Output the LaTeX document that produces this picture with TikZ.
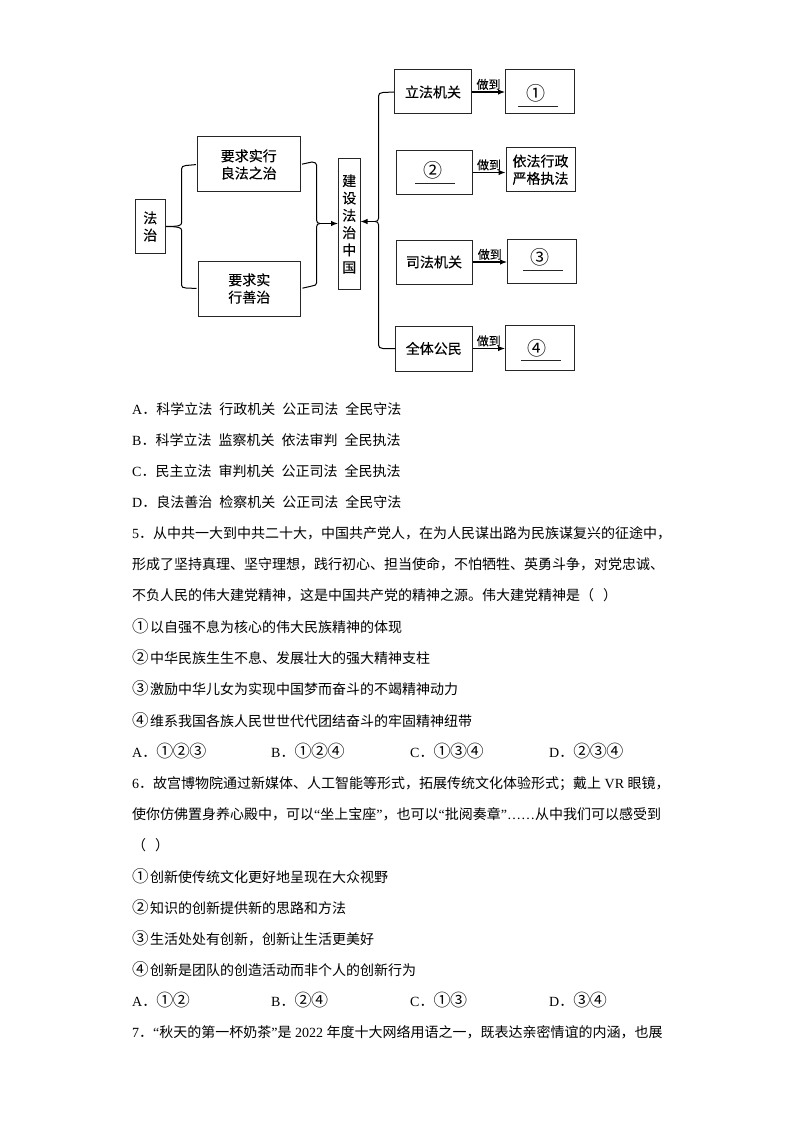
\documentclass[tikz,border=0pt]{standalone}
\usepackage{fontspec}
\setmainfont{Noto Sans CJK SC}
\newfontfamily\latf{Liberation Serif}
\newfontfamily\boxf[FakeBold=0.25]{Noto Sans CJK SC}
\usetikzlibrary{positioning, arrows.meta}
\newcommand{\lat}[1]{{\latf #1}}
\newcommand{\cnum}[1]{\makebox[18pt][l]{\fontsize{16.5}{17}\selectfont #1}}
\newcommand{\onum}[1]{\makebox[16.5pt][l]{\fontsize{17}{17}\selectfont #1}}

\tikzset{
    box/.style={draw=black!85, line width=1pt, inner sep=0pt, align=center, text=black, font=\boxf\fontsize{14}{17.3}\selectfont},
    row/.style={anchor=base west, inner sep=0pt, font=\fontsize{14}{17}\selectfont},
    brace/.style={line width=1pt},
    link/.style={line width=1.1pt, -{Latex[length=7pt,width=5.5pt]}},
    did/.style={above, inner sep=1.5pt, font=\boxf\fontsize{12}{14}\selectfont},
    blanknum/.style={inner sep=0pt, font=\fontsize{19}{19}\selectfont},
    blankline/.style={fill=black!85, inner sep=0pt, minimum width=40pt, minimum height=1pt}
}

\begin{document}
\begin{tikzpicture}[x=1pt, y=-1pt]
    \useasboundingbox (0,0) rectangle (794,1123);

    % Left part
    \node [box, minimum width=30.5pt, minimum height=53pt] (fazhi) at (150.25,226.5) {法\\治};
    \node [box, minimum width=102.5pt, minimum height=55pt] (good) at (248.75,164.5) {要求实行\\良法之治};
    \node [box, minimum width=102.5pt, minimum height=55pt] (gov) at (249.25,288.5) {要求实\\行善治};
    \node [box, minimum width=21.5pt, minimum height=130pt] (china) at (349.25,224) {建\\设\\法\\治\\中\\国};

    % Left row of boxes
    \node [box, minimum width=77pt, minimum height=44pt] (law) at (433,92) {立法机关};
    \node [box, minimum width=76pt, minimum height=44pt] (admin) at (434,172.5) {};
    \node [box, minimum width=76pt, minimum height=44pt] (court) at (434,262) {司法机关};
    \node [box, minimum width=76.5pt, minimum height=45pt] (people) at (433.75,348.5) {全体公民};

    % Right row of boxes
    \node [box, minimum width=69pt, minimum height=44.5pt] (ans1) at (540,91.75) {};
    \node [box, minimum width=69pt, minimum height=44.5pt] (strict) at (540.5,169.75) {依法行政\\严格执法};
    \node [box, minimum width=68.5pt, minimum height=44pt] (ans3) at (541.75,261) {};
    \node [box, minimum width=68.5pt, minimum height=44.5pt] (ans4) at (539.75,347.75) {};

    % Blanks
    \node [blanknum] (num1) at (536,93) {①};
    \node [blanknum] (num2) at (433,170) {②};
    \node [blanknum] (num3) at (540,257) {③};
    \node [blanknum] (num4) at (537,348) {④};
    \node [blankline] (line1) at (538,107) {};
    \node [blankline] (line2) at (434.5,184) {};
    \node [blankline] (line3) at (543,270.5) {};
    \node [blankline] (line4) at (540.5,360.5) {};

    % Braces
    \draw [brace, shorten <=1pt] (good.west) -- (186,165.5) .. controls (183,166) and (181.5,166.5) .. (181.5,169) -- (181.5,223) .. controls (181.5,225.5) and (179,226.5) .. (fazhi.east);
    \draw [brace, shorten <=1pt] (gov.west) -- (186,288) .. controls (183,288) and (181.5,287) .. (181.5,285) -- (181.5,230) .. controls (181.5,228) and (179,226.5) .. (fazhi.east);
    \coordinate (mtip) at (320,223.5);
    \draw [brace, shorten <=1.5pt] (good.east) -- (312,162) .. controls (315,162.5) and (316.5,163) .. (316.5,165) -- (316.5,220) .. controls (316.5,222.5) and (318,223.5) .. (mtip);
    \draw [brace, shorten <=1.5pt] (gov.east) -- (312,286) .. controls (315,285.5) and (316.5,285) .. (316.5,283) -- (316.5,227) .. controls (316.5,224.5) and (318,223.5) .. (mtip);
    \coordinate (rtip) at (375,221.5);
    \draw [brace] (law.west) -- (383,92.5) .. controls (380,93) and (378.5,93.5) .. (378.5,96) -- (378.5,218.5) .. controls (378.5,220.5) and (377,221.5) .. (rtip);
    \draw [brace] (people.west) -- (383,348.5) .. controls (380,348) and (378.5,347.5) .. (378.5,345) -- (378.5,224.5) .. controls (378.5,222.5) and (377,221.5) .. (rtip);

    % Arrows
    \draw [link] (mtip) -- (china.west |- mtip);
    \draw [link] (rtip) -- (china.east |- rtip);
    \draw [link] (law.east) -- node [did] (did1) {做到} (ans1.west |- law.east);
    \draw [link] (admin.east) -- node [did] (did2) {做到} (strict.west |- admin.east);
    \draw [link] (court.east) -- node [did] (did3) {做到} (ans3.west |- court.east);
    \draw [link] (people.east) -- node [did] (did4) {做到} (ans4.west |- people.east);

    % Options of question 4
    \node [row] (q4a) at (132,414.5) {\lat{A}．科学立法\hspace{7pt}行政机关\hspace{7pt}公正司法\hspace{7pt}全民守法};
    \node [row] (q4b) at (132,445.5) {\lat{B}．科学立法\hspace{7pt}监察机关\hspace{7pt}依法审判\hspace{7pt}全民执法};
    \node [row] (q4c) at (132,476.5) {\lat{C}．民主立法\hspace{7pt}审判机关\hspace{7pt}公正司法\hspace{7pt}全民执法};
    \node [row] (q4d) at (132,507.5) {\lat{D}．良法善治\hspace{7pt}检察机关\hspace{7pt}公正司法\hspace{7pt}全民守法};

    % Question 5
    \node [row] (q5l1) at (132,538.5) {\lat{5}．从中共一大到中共二十大，中国共产党人，在为人民谋出路为民族谋复兴的征途中，};
    \node [row] (q5l2) at (132,569.5) {形成了坚持真理、坚守理想，践行初心、担当使命，不怕牺牲、英勇斗争，对党忠诚、};
    \node [row] (q5l3) at (132,600.5) {不负人民的伟大建党精神，这是中国共产党的精神之源。伟大建党精神是（\hspace{9pt}）};
    \node [row] (q5s1) at (132,632) {\cnum{①}以自强不息为核心的伟大民族精神的体现};
    \node [row] (q5s2) at (132,663) {\cnum{②}中华民族生生不息、发展壮大的强大精神支柱};
    \node [row] (q5s3) at (132,694.5) {\cnum{③}激励中华儿女为实现中国梦而奋斗的不竭精神动力};
    \node [row] (q5s4) at (132,726) {\cnum{④}维系我国各族人民世世代代团结奋斗的牢固精神纽带};
    \node [row] (q5a) at (132,757.5) {\lat{A}．\onum{①}\onum{②}\onum{③}};
    \node [row] (q5b) at (271,757.5) {\lat{B}．\onum{①}\onum{②}\onum{④}};
    \node [row] (q5c) at (410,757.5) {\lat{C}．\onum{①}\onum{③}\onum{④}};
    \node [row] (q5d) at (549,757.5) {\lat{D}．\onum{②}\onum{③}\onum{④}};

    % Question 6
    \node [row] (q6l1) at (132,788.5) {\lat{6}．故宫博物院通过新媒体、人工智能等形式，拓展传统文化体验形式；戴上\lat{ VR }眼镜，};
    \node [row] (q6l2) at (132,819.5) {使你仿佛置身养心殿中，可以\lat{“}坐上宝座\lat{”}，也可以\lat{“}批阅奏章\lat{”}\lat{……}从中我们可以感受到};
    \node [row] (q6l3) at (132,850.5) {（\hspace{9pt}）};
    \node [row] (q6s1) at (132,882) {\cnum{①}创新使传统文化更好地呈现在大众视野};
    \node [row] (q6s2) at (132,913) {\cnum{②}知识的创新提供新的思路和方法};
    \node [row] (q6s3) at (132,944) {\cnum{③}生活处处有创新，创新让生活更美好};
    \node [row] (q6s4) at (132,975) {\cnum{④}创新是团队的创造活动而非个人的创新行为};
    \node [row] (q6a) at (132,1006.5) {\lat{A}．\onum{①}\onum{②}};
    \node [row] (q6b) at (271,1006.5) {\lat{B}．\onum{②}\onum{④}};
    \node [row] (q6c) at (410,1006.5) {\lat{C}．\onum{①}\onum{③}};
    \node [row] (q6d) at (549,1006.5) {\lat{D}．\onum{③}\onum{④}};

    % Question 7
    \node [row] (q7l1) at (132,1037.5) {\lat{7}．\lat{“}秋天的第一杯奶茶\lat{”}是\lat{ 2022 }年度十大网络用语之一，既表达亲密情谊的内涵，也展};
\end{tikzpicture}
\end{document}
